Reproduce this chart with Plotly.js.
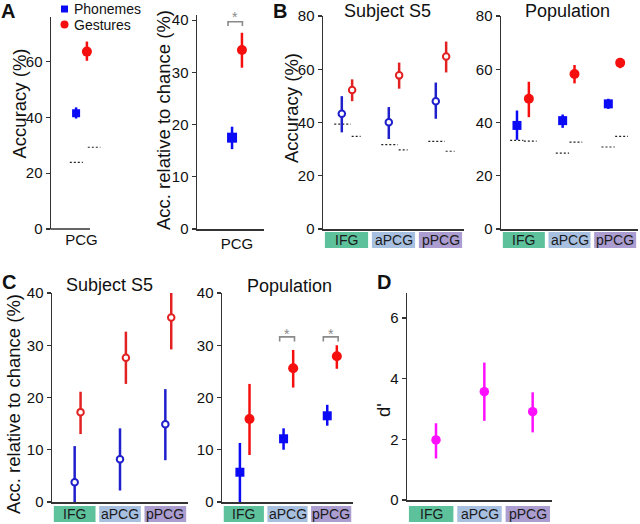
<!DOCTYPE html>
<html><head><meta charset="utf-8">
<script src="https://cdn.plot.ly/plotly-3.0.1.min.js"></script>
<style>html,body{margin:0;padding:0;background:#fff}</style>
</head><body><div id="chart" style="width:640px;height:524px"></div>
<script>
// ---------- DATA ----------
const regions = ['IFG', 'aPCG', 'pPCG'];
const pcgLabel = ['PCG'];

// Panel A: PCG accuracy (%)
const aAccPhon = [41.5], aAccPhonLo = [39.6], aAccPhonHi = [43.6];
const aAccGest = [63.6], aAccGestLo = [60.3], aAccGestHi = [67.2];
const aChancePhon = [23.9], aChanceGest = [29.3];
// Panel A: accuracy relative to chance (%)
const aRelPhon = [17.5], aRelPhonLo = [15.3], aRelPhonHi = [19.6];
const aRelGest = [34.3], aRelGestLo = [30.9], aRelGestHi = [37.6];

// Panel B: Subject S5 accuracy (%)
const bS5Phon = [43.3, 40.1, 48.0], bS5PhonLo = [36.3, 33.8, 41.4], bS5PhonHi = [49.9, 45.8, 55.0];
const bS5Gest = [52.2, 57.7, 64.8], bS5GestLo = [48.0, 52.7, 58.8], bS5GestHi = [56.2, 62.5, 70.4];
const bS5ChancePhon = [39.4, 31.7, 32.9], bS5ChanceGest = [34.8, 29.7, 29.2];
// Panel B: Population accuracy (%)
const bPopPhon = [38.9, 40.7, 47.0], bPopPhonLo = [33.5, 38.0, 45.1], bPopPhonHi = [44.5, 43.0, 48.9];
const bPopGest = [48.9, 58.2, 62.4], bPopGestLo = [42.0, 54.7, 60.4], bPopGestHi = [55.3, 61.6, 64.2];
const bPopChancePhon = [33.3, 28.5, 30.8], bPopChanceGest = [33.0, 32.6, 34.8];

// Panel C: Subject S5 accuracy relative to chance (%)
const cS5Phon = [3.8, 8.2, 14.9], cS5PhonLo = [0, 2.2, 8.0], cS5PhonHi = [10.7, 14.1, 21.6];
const cS5Gest = [17.2, 27.6, 35.3], cS5GestLo = [13.0, 22.6, 29.2], cS5GestHi = [21.1, 32.6, 40.1];
// Panel C: Population accuracy relative to chance (%)
const cPopPhon = [5.7, 12.1, 16.5], cPopPhonLo = [0, 10.0, 14.6], cPopPhonHi = [11.3, 14.1, 18.6];
const cPopGest = [15.9, 25.6, 27.9], cPopGestLo = [9.0, 21.9, 25.5], cPopGestHi = [22.6, 29.1, 30.0];
const cPopSignificant = [false, true, true];

// Panel D: d'
const dPrime = [1.98, 3.57, 2.91], dPrimeLo = [1.37, 2.61, 2.23], dPrimeHi = [2.53, 4.53, 3.55];

// ---------- STYLE ----------
const W = 640, H = 524;
const FONT = 'Liberation Sans, Arial, sans-serif';
const BLUE = '#0a0af5', RED = '#f5100f', BLUE_S5 = '#1f1fcc', RED_S5 = '#e22222', MAG = '#ff10ff';
const AXC = '#333333';
const regionColors = ['#5dc29c', '#a7c0e0', '#ab9dd0'];
const px = v => v / W, py = v => 1 - v / H;

function pts(xa, ya, xs, mean, lo, hi, marker, ecolor) {
  return {
    type: 'scatter', mode: 'markers', x: xs, y: mean, xaxis: xa, yaxis: ya,
    showlegend: false, cliponaxis: false, hoverinfo: 'skip',
    marker: marker,
    error_y: { type: 'data', symmetric: false,
      array: hi.map((h, i) => h - mean[i]), arrayminus: lo.map((l, i) => mean[i] - l),
      color: ecolor, thickness: 2.5, width: 0 }
  };
}
function chance(xa, ya, vals, centers, a, b) {
  const x = [], y = [];
  vals.forEach((v, i) => { x.push(centers[i] + a, centers[i] + b, null); y.push(v, v, null); });
  return { type: 'scatter', mode: 'lines', x: x, y: y, xaxis: xa, yaxis: ya, showlegend: false,
    hoverinfo: 'skip', line: { color: '#222', width: 1.2, dash: '2px,2px' } };
}
function bracket(xa, ya, x0, x1, top, drop) {
  return { type: 'scatter', mode: 'lines', x: [x0, x0, x1, x1], y: [top - drop, top, top, top - drop],
    xaxis: xa, yaxis: ya, showlegend: false, hoverinfo: 'skip', cliponaxis: false,
    line: { color: '#8a8a8a', width: 1.6 } };
}
const idx = regions.map((r, i) => i);
const off = (d) => idx.map(i => i + d);

const sq = c => ({ symbol: 'square', size: 9, color: c });
const ci = c => ({ symbol: 'circle', size: 10, color: c });
const oc = c => ({ symbol: 'circle', size: 6.5, color: '#ffffff', line: { color: c, width: 2 } });

const traces = [
  // A1
  chance('x', 'y', aChancePhon, [0], -0.26, 0.03),
  chance('x', 'y', aChanceGest, [0], 0.14, 0.42),
  pts('x', 'y', [-0.12], aAccPhon, aAccPhonLo, aAccPhonHi, { symbol: 'square', size: 8, color: BLUE }, BLUE),
  pts('x', 'y', [0.12], aAccGest, aAccGestLo, aAccGestHi, { symbol: 'circle', size: 10, color: RED }, RED),
  // A2
  bracket('x2', 'y2', -0.2, 0.12, 39.7, 0.8),
  pts('x2', 'y2', [-0.11], aRelPhon, aRelPhonLo, aRelPhonHi, { symbol: 'square', size: 10, color: BLUE }, BLUE),
  pts('x2', 'y2', [0.11], aRelGest, aRelGestLo, aRelGestHi, ci(RED), RED),
  // B1
  chance('x3', 'y3', bS5ChancePhon, idx, -0.26, 0.09),
  chance('x3', 'y3', bS5ChanceGest, idx, 0.11, 0.3),
  pts('x3', 'y3', off(-0.1), bS5Phon, bS5PhonLo, bS5PhonHi, oc(BLUE_S5), BLUE_S5),
  pts('x3', 'y3', off(0.12), bS5Gest, bS5GestLo, bS5GestHi, oc(RED_S5), RED_S5),
  // B2
  chance('x4', 'y4', bPopChancePhon, idx, -0.3, -0.01),
  chance('x4', 'y4', bPopChanceGest, idx, 0.0, 0.28),
  pts('x4', 'y4', off(-0.15), bPopPhon, bPopPhonLo, bPopPhonHi, sq(BLUE), BLUE),
  pts('x4', 'y4', off(0.11), bPopGest, bPopGestLo, bPopGestHi, ci(RED), RED),
  // C1
  pts('x5', 'y5', off(0.0), cS5Phon, cS5PhonLo, cS5PhonHi, oc(BLUE_S5), BLUE_S5),
  pts('x5', 'y5', off(0.13), cS5Gest, cS5GestLo, cS5GestHi, oc(RED_S5), RED_S5),
  // C2
  pts('x6', 'y6', off(-0.09), cPopPhon, cPopPhonLo, cPopPhonHi, sq(BLUE), BLUE),
  pts('x6', 'y6', off(0.13), cPopGest, cPopGestLo, cPopGestHi, ci(RED), RED),
  // D
  pts('x7', 'y7', off(0.1), dPrime, dPrimeLo, dPrimeHi, { symbol: 'circle', size: 9.5, color: MAG }, MAG),
];
cPopSignificant.forEach((s, i) => { if (s) traces.push(bracket('x6', 'y6', i - 0.18, i + 0.16, 31.6, 0.9)); });

// ---------- AXES ----------
function xax(d0, d1, range, anchor, opts) {
  return Object.assign({ domain: [px(d0), px(d1)], range: range, anchor: anchor, showgrid: false,
    zeroline: false, showline: true, linecolor: AXC, linewidth: 1.5, ticks: '', showticklabels: false,
    fixedrange: true }, opts || {});
}
function yax(top, bottom, range, anchor, dtick) {
  return { domain: [py(bottom), py(top)], range: range, anchor: anchor, showgrid: false, zeroline: false,
    showline: true, linecolor: AXC, linewidth: 1.5, ticks: 'outside', ticklen: 4, tickwidth: 1.2,
    tickcolor: AXC, dtick: dtick, tick0: 0, tickfont: { size: 15, color: '#111', family: FONT },
    fixedrange: true };
}
const pcgTicks = { showticklabels: true, tickvals: [0], ticktext: pcgLabel,
  tickfont: { size: 15, color: '#111', family: FONT } };

const layout = {
  width: W, height: H, margin: { l: 0, r: 0, t: 0, b: 0 }, paper_bgcolor: '#fff', plot_bgcolor: 'rgba(0,0,0,0)',
  font: { family: FONT, color: '#111' }, showlegend: false,
  xaxis: xax(51, 101, [(51 - 81.5) / 45, (101 - 81.5) / 45], 'y', Object.assign({ showline: false }, pcgTicks)),
  yaxis: yax(17, 229, [0, 76], 'x', 20),
  xaxis2: xax(197, 264, [(197 - 237) / 45, (264 - 237) / 45], 'y2', pcgTicks),
  yaxis2: yax(15, 229, [0, 41], 'x2', 10),
  xaxis3: xax(323, 464, [-0.5, 2.5], 'y3'),
  yaxis3: yax(16, 229, [0, 80], 'x3', 20),
  xaxis4: xax(501, 638, [-0.5, 2.5], 'y4'),
  yaxis4: yax(16, 229, [0, 80], 'x4', 20),
  xaxis5: xax(52, 188, [-0.5, 2.5], 'y5'),
  yaxis5: yax(293, 502, [0, 40], 'x5', 10),
  xaxis6: xax(222, 353, [-0.5, 2.5], 'y6'),
  yaxis6: yax(293, 502, [0, 40], 'x6', 10),
  xaxis7: xax(407, 552, [-0.5, 2.5], 'y7'),
  yaxis7: yax(293, 500, [0, (500 - 293) / ((500 - 318) / 6)], 'x7', 2),
  shapes: [], annotations: []
};
const S = layout.shapes, A = layout.annotations;

// bottom axis line of panel A1 (shorter than the plotting area)
S.push({ type: 'line', xref: 'paper', yref: 'paper', x0: px(50.3), x1: px(90), y0: py(229), y1: py(229),
  line: { color: AXC, width: 1.5 } });

// region label boxes
[['x3', 232, 248], ['x4', 232, 248], ['x5', 506, 522], ['x6', 506, 522], ['x7', 506, 522]].forEach(([xa, t, b]) => {
  regions.forEach((r, i) => {
    S.push({ type: 'rect', xref: xa, yref: 'paper', x0: i - 0.46, x1: i + 0.46, y0: py(b), y1: py(t),
      line: { width: 0 }, fillcolor: regionColors[i], layer: 'below' });
    A.push({ xref: xa, yref: 'paper', x: i, y: py((t + b) / 2), text: r, showarrow: false,
      font: { size: 14, color: '#1b1b1b', family: FONT }, xanchor: 'center', yanchor: 'middle' });
  });
});

// legend
S.push({ type: 'rect', xref: 'paper', yref: 'paper', x0: px(61), x1: px(68), y0: py(12.5), y1: py(5.5),
  fillcolor: BLUE, line: { width: 0 } });
S.push({ type: 'circle', xref: 'paper', yref: 'paper', x0: px(60.5), x1: px(68.5), y0: py(28.5), y1: py(20.5),
  fillcolor: RED, line: { width: 0 } });
const txt = (x, y, text, size, opts) => A.push(Object.assign({ xref: 'paper', yref: 'paper', x: px(x), y: py(y),
  text: text, showarrow: false, xanchor: 'center', yanchor: 'middle',
  font: { size: size, color: '#111', family: FONT } }, opts || {}));
txt(72, 9, 'Phonemes', 14, { xanchor: 'left' });
txt(72, 24.5, 'Gestures', 14, { xanchor: 'left' });

// panel letters
txt(7.5, 10.5, '<b>A</b>', 20);
txt(280, 11, '<b>B</b>', 20);
txt(8.5, 281.5, '<b>C</b>', 20);
txt(383.5, 281.5, '<b>D</b>', 20);

// panel titles
txt(387, 11, 'Subject S5', 18);
txt(567, 11, 'Population', 18);
txt(109, 285, 'Subject S5', 18);
txt(289, 286, 'Population', 18);

// y-axis titles
const YT = 18.5;
txt(19, 103.5, 'Accuracy (%)', YT, { textangle: -90 });
txt(164, 120, 'Acc. relative to chance (%)', YT, { textangle: -90 });
txt(291, 108, 'Accuracy (%)', YT, { textangle: -90 });
txt(13, 404, 'Acc. relative to chance (%)', YT, { textangle: -90 });
txt(383, 410, "d'", YT, { textangle: -90 });

// significance stars
const star = { font: { size: 14, color: '#8a8a8a', family: FONT } };
txt(235, 17, '*', 14, star);
cPopSignificant.forEach((s, i) => { if (s) A.push({ xref: 'x6', yref: 'paper', x: i - 0.01, y: py(334),
  text: '*', showarrow: false, font: { size: 14, color: '#8a8a8a', family: FONT } }); });

Plotly.newPlot('chart', traces, layout, { displayModeBar: false, staticPlot: true });
</script>
</body></html>
